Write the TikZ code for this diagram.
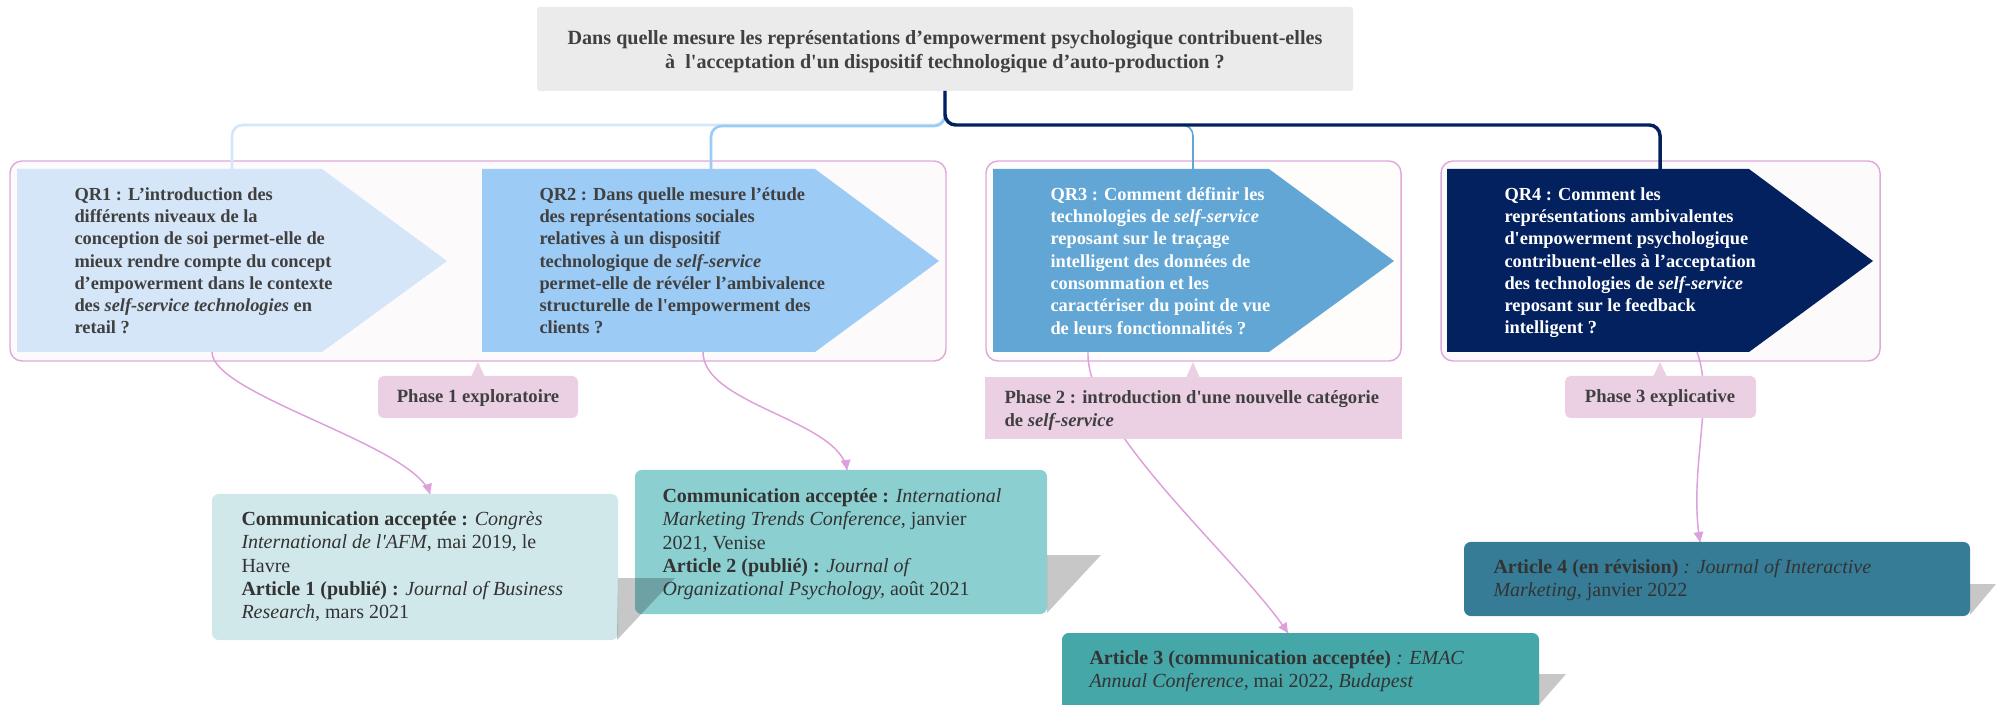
\documentclass[tikz,border=0pt]{standalone}
\usepackage{fontspec}
\setmainfont{Liberation Serif}[Ligatures=TeXOff]

\definecolor{qrA}{HTML}{D5E6F8}
\definecolor{qrB}{HTML}{9CCBF5}
\definecolor{qrC}{HTML}{62A6D5}
\definecolor{qrD}{HTML}{03215F}
\definecolor{grpline}{HTML}{DFA9D9}
\definecolor{grpfill}{HTML}{FDFAFC}
\definecolor{tagfill}{HTML}{EBD0E4}
\definecolor{pinkarrow}{HTML}{DDA0DA}
\definecolor{artA}{HTML}{D1E8EB}
\definecolor{artB}{HTML}{8CCFD1}
\definecolor{artC}{HTML}{46A7A9}
\definecolor{artD}{HTML}{367C96}
\definecolor{titlefill}{HTML}{EBEBEB}
\definecolor{darktext}{HTML}{404040}
\definecolor{arttext}{HTML}{333333}

\tikzset{every picture/.style={line width=0.75pt}}
\tikzset{
  qrtext/.style={anchor=north west, inner sep=0.75pt, align=left, font=\fontsize{13.8}{16.7}\selectfont\bfseries},
  arttext/.style={anchor=north west, inner sep=0.75pt, align=left, text=arttext, font=\fontsize{15}{17.5}\selectfont},
  phasetext/.style={inner sep=0.75pt, align=left, text=darktext, font=\fontsize{14}{17.3}\selectfont\bfseries},
  grpbox/.style={draw=grpline, fill=grpfill, line width=1.1, rounded corners=9},
  tagbox/.style={fill=tagfill, draw=none, rounded corners=4},
  pinkline/.style={draw=pinkarrow, line width=1.1},
  pinktip/.style={fill=pinkarrow, line width=0.08, draw opacity=0},
  artshadow/.style={fill=black, fill opacity=0.22},
}

\begin{document}
\begin{tikzpicture}[x=0.75pt,y=0.75pt,yscale=-1,xscale=1]
\useasboundingbox (0,0) rectangle (1999,705);

%Shape: Rectangle [title]
\draw [fill=titlefill, draw opacity=0, rounded corners=2] (537,7) rectangle (1353,91) ;
%Shape: Rounded Rect [groups]
\draw [grpbox] (10,161) rectangle (946,361) ;
\draw [grpbox, fill=white!60!orange!3] (986,161) rectangle (1401,361) ;
\draw [grpbox] (1441,161) rectangle (1880,361) ;

\coordinate (trunk) at (945,91) ;
\coordinate (qr1top) at (232,169) ;
\coordinate (qr2top) at (711,169) ;
\coordinate (qr3top) at (1193,169) ;
\coordinate (qr4top) at (1660,169) ;

%Straight Lines [tree]
\draw [color=qrA, line width=2, rounded corners=8] (trunk) -- ++(0,34) -| (qr1top) ;
\draw [color=qrB, line width=2, rounded corners=8] (trunk) -- ++(0,35) -| (qr2top) ;
\draw [color=qrC, line width=1.2, rounded corners=8] (trunk) -- ++(0,34) -| (qr3top) ;
\draw [color=qrD, line width=2.6, rounded corners=8] (trunk) -- ++(0,34) -| (qr4top) ;

%Shape: Pentagon [QR1]
\draw [fill=qrA, draw opacity=0] (17,169) -- (322,169) -- (447,261) -- (322,352) -- (17,352) -- cycle ;
%Shape: Pentagon [QR2]
\draw [fill=qrB, draw opacity=0] (482,169) -- (815,169) -- (939,261) -- (815,352) -- (482,352) -- cycle ;
%Shape: Pentagon [QR3]
\draw [fill=qrC, draw opacity=0] (993,169) -- (1269,169) -- (1394,261) -- (1269,352) -- (993,352) -- cycle ;
%Shape: Pentagon [QR4]
\draw [fill=qrD, draw opacity=0] (1447,169) -- (1749,169) -- (1873,261) -- (1749,352) -- (1447,352) -- cycle ;

\coordinate (qr1out) at (212,352) ;
\coordinate (qr2out) at (703,352) ;
\coordinate (qr3out) at (1088,352) ;
\coordinate (qr4out) at (1697,352) ;
\coordinate (art1in) at (430,494) ;
\coordinate (art2in) at (847,470) ;
\coordinate (art3in) at (1288,633) ;
\coordinate (art4in) at (1700,542) ;

%Curve Lines
\draw [pinkline] (qr1out) .. controls (212,395) and (415,445) .. (art1in) ;
\draw [pinkline] (qr2out) .. controls (703,405) and (840,420) .. (art2in) ;
\draw [pinkline] (qr3out) .. controls (1085,430) and (1240,560) .. (art3in) ;
\draw [pinkline] (qr4out) .. controls (1715,400) and (1688,470) .. (art4in) ;

%Shape: Callout [phases]
\fill [tagbox] (378,376) rectangle (578,418) ;
\fill [tagfill] (471,377) -- (478,362) -- (485,377) -- cycle ;
\fill [tagfill] (985,377) rectangle (1402,439) ;
\fill [tagfill] (1186,378) -- (1193,362) -- (1200,378) -- cycle ;
\fill [tagbox] (1565,376) rectangle (1756,418) ;
\fill [tagfill] (1653,377) -- (1660,362) -- (1667,377) -- cycle ;

%Shape: Rounded Rect [articles]
\draw [fill=artA, draw opacity=0, rounded corners=5] (212,494) rectangle (618,640) ;
\draw [fill=artB, draw opacity=0, rounded corners=5] (635,470) rectangle (1047,614) ;
\draw [fill=artC, draw opacity=0, rounded corners=5] (1062,633) rectangle (1539,712) ;
\draw [fill=artD, draw opacity=0, rounded corners=5] (1464,542) rectangle (1970,616) ;
%Shape: Shadows
\fill [artshadow] (618,578) -- (675,578) -- (617,640) -- cycle ;
\fill [artshadow] (1047,555) -- (1101,555) -- (1047,613) -- cycle ;
\fill [artshadow] (1539,674) -- (1566,674) -- (1539,705) -- cycle ;
\fill [artshadow] (1970,584) -- (1996,584) -- (1970,615) -- cycle ;

%Arrow tips
\draw [shift={(art1in)}, rotate=253] [pinktip] (10,-5) -- (0,0) -- (10,5) -- cycle ;
\draw [shift={(art2in)}, rotate=262] [pinktip] (10,-5) -- (0,0) -- (10,5) -- cycle ;
\draw [shift={(art3in)}, rotate=236] [pinktip] (10,-5) -- (0,0) -- (10,5) -- cycle ;
\draw [shift={(art4in)}, rotate=261] [pinktip] (10,-5) -- (0,0) -- (10,5) -- cycle ;

% Text Node
\draw (945,29) node (title) [anchor=north][inner sep=0.75pt][align=center][text=darktext, font=\fontsize{15.1}{18.3}\selectfont\bfseries] {Dans quelle mesure les représentations d’empowerment psychologique contribuent-elles\\ à\ \ l'acceptation d'un dispositif technologique d’auto-production ?};
% Text Node
\draw (73,186) node (qr1) [qrtext, text=darktext] {QR1 : L’introduction des\\ différents niveaux de la\\ conception de soi permet-elle de\\ mieux rendre compte du concept\\ d’empowerment dans le contexte\\ des \textit{self-service technologies} en\\ retail ?};
% Text Node
\draw (538,186) node (qr2) [qrtext, text=darktext] {QR2 : Dans quelle mesure l’étude\\ des représentations sociales\\ relatives à un dispositif\\ technologique de \textit{self-service}\\ permet-elle de révéler l’ambivalence\\ structurelle de l'empowerment des\\ clients ?};
% Text Node
\draw (1049,186) node (qr3) [qrtext, text=white] {QR3 : Comment définir les\\ technologies de \textit{self-service}\\ reposant sur le traçage\\ intelligent des données de\\ consommation et les\\ caractériser du point de vue\\ de leurs fonctionnalités ?};
% Text Node
\draw (1503,186) node (qr4) [qrtext, text=white] {QR4 : Comment les\\ représentations ambivalentes\\ d'empowerment psychologique\\ contribuent-elles à l’acceptation\\ des technologies de \textit{self-service}\\ reposant sur le feedback\\ intelligent ?};
% Text Node
\draw (478,403) node (ph1) [phasetext, anchor=base] {Phase 1 exploratoire};
% Text Node
\draw (1003,389) node (ph2) [phasetext, anchor=north west] {Phase 2 : introduction d'une nouvelle catégorie\\ de \textit{self-service}};
% Text Node
\draw (1660,403) node (ph3) [phasetext, anchor=base] {Phase 3 explicative};
% Text Node
\draw (240,510) node (art1) [arttext] {\textbf{Communication acceptée :} \textit{Congrès}\\ \textit{International de l'AFM}, mai 2019, le\\ Havre\\ \textbf{Article 1 (publié) :} \textit{Journal of Business}\\ \textit{Research,} mars 2021};
% Text Node
\draw (661,487) node (art2) [arttext] {\textbf{Communication acceptée :} \textit{International}\\ \textit{Marketing Trends Conference}, janvier\\ 2021, Venise\\ \textbf{Article 2 (publié) :} \textit{Journal of}\\ \textit{Organizational Psychology,} août 2021};
% Text Node
\draw (1088,649) node (art3) [arttext] {\textbf{Article 3 (communication acceptée)} \textit{: EMAC}\\ \textit{Annual Conference,} mai 2022, \textit{Budapest}};
% Text Node
\draw (1492,558) node (art4) [arttext] {\textbf{Article 4 (en révision)} \textit{: Journal of Interactive}\\ \textit{Marketing}, janvier 2022};

\end{tikzpicture}
\end{document}
